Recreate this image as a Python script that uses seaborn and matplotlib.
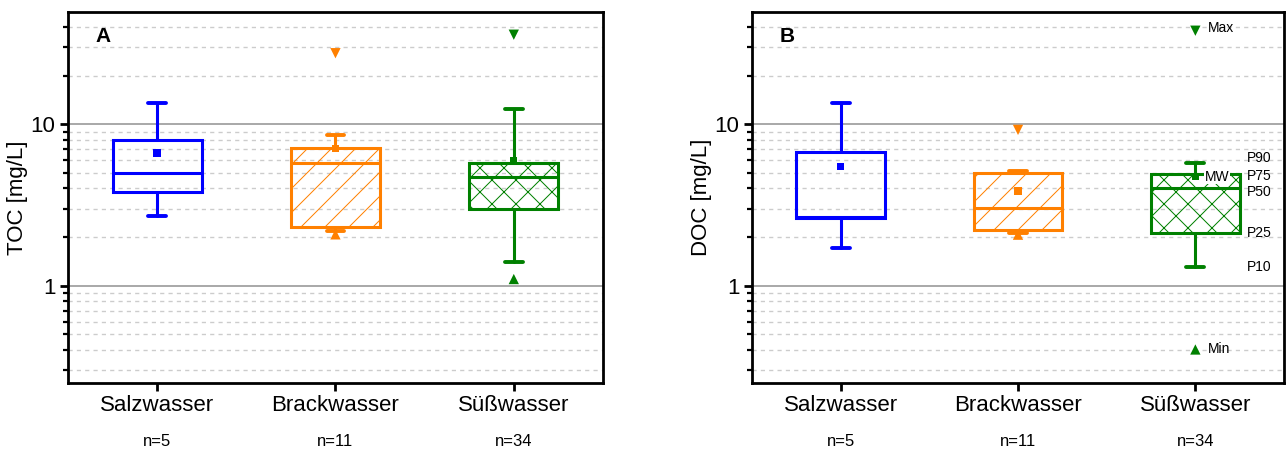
import numpy as np
import pandas as pd
import seaborn as sns
import matplotlib
matplotlib.use('Agg')
import matplotlib.pyplot as plt
from matplotlib.ticker import LogLocator, NullFormatter, FuncFormatter

# Kategorien und Stichprobenumfang
kategorien = ['Salzwasser', 'Brackwasser', 'Süßwasser']
n_labels = ['n=5', 'n=11', 'n=34']
farben = ['#0000FF', '#FF8000', '#008000']
schraffur = ['', '/', 'x']

# A: TOC [mg/L] - Perzentile, Mittelwert, Min/Max
toc_p10 = [2.70, 2.18, 1.41]
toc_p25 = [3.83, 2.30, 3.00]
toc_p50 = [5.02, 5.79, 4.72]
toc_p75 = [7.97, 7.17, 5.73]
toc_p90 = [13.5, 8.6, 12.4]
toc_mw = [6.62, 7.10, 5.95]
toc_min = [np.nan, 2.08, 1.10]
toc_max = [np.nan, 27.5, 35.8]

# B: DOC [mg/L]
doc_p10 = [1.70, 2.11, 1.31]
doc_p25 = [2.62, 2.21, 2.12]
doc_p50 = [2.68, 3.01, 4.01]
doc_p75 = [6.70, 5.02, 4.92]
doc_p90 = [13.5, 5.16, 5.78]
doc_mw = [5.47, 3.86, 4.74]
doc_min = [np.nan, 2.07, 0.403]
doc_max = [np.nan, 9.22, 37.9]

# Beschriftung der Süßwasser-Box in B
legende_texte = ['P90', 'P75', 'P50', 'P25', 'P10']

# bei 72 dpi ist die Schraffur enger (wie im Original); Groessen in "100-dpi-Punkten" umrechnen
DPI = 72
K = 100 / DPI

sns.set_style('ticks')
plt.rcParams['font.family'] = ['Liberation Sans', 'DejaVu Sans']
plt.rcParams['hatch.linewidth'] = 1.0
for key in ['text.color', 'axes.labelcolor', 'xtick.color', 'ytick.color']:
    plt.rcParams[key] = 'black'

fig = plt.figure(figsize=(1287 / DPI, 452 / DPI), dpi=DPI)
ax_a = fig.add_axes([0.0528, 0.1527, 0.4157, 0.8208])
ax_b = fig.add_axes([0.5843, 0.1527, 0.4134, 0.8208])
palette = dict(zip(kategorien, farben))


def panel(ax, p10, p25, p50, p75, p90, mw, vmin, vmax, ylabel, buchstabe):
    ax.set_yscale('log')
    stats = []
    for i in range(3):
        stats.append(dict(whislo=p10[i], q1=p25[i], med=p50[i], q3=p75[i],
                          whishi=p90[i], fliers=[]))
    teile = ax.bxp(stats, positions=[0, 1, 2], widths=0.5, capwidths=0.1,
                   patch_artist=True, showfliers=False, manage_ticks=False)
    for i, box in enumerate(teile['boxes']):
        box.set_facecolor('none')
        box.set_edgecolor(farben[i])
        box.set_linewidth(2.2 * K)
        box.set_hatch(schraffur[i])
    for i, m in enumerate(teile['medians']):
        m.set_color(farben[i])
        m.set_linewidth(2.2 * K)
    for j, w in enumerate(teile['whiskers']):
        w.set_color(farben[j // 2])
        w.set_linewidth(2.2 * K)
    for j, c in enumerate(teile['caps']):
        c.set_color(farben[j // 2])
        c.set_linewidth(2.8 * K)

    df = pd.DataFrame({'x': [0, 1, 2], 'kat': kategorien, 'mw': mw,
                       'min': vmin, 'max': vmax})
    sns.scatterplot(data=df, x='x', y='mw', hue='kat', palette=palette, marker='s',
                    s=28 * K * K, linewidth=0, legend=False, zorder=4, ax=ax)
    sns.scatterplot(data=df.dropna(), x='x', y='max', hue='kat', palette=palette, marker='v',
                    s=55 * K * K, linewidth=0, legend=False, zorder=4, ax=ax)
    sns.scatterplot(data=df.dropna(), x='x', y='min', hue='kat', palette=palette, marker='^',
                    s=55 * K * K, linewidth=0, legend=False, zorder=4, ax=ax)

    ax.set_xlim(-0.5, 2.5)
    ax.set_ylim(0.25, 49.5)
    ax.yaxis.set_major_locator(LogLocator(base=10))
    ax.yaxis.set_minor_locator(LogLocator(base=10, subs=np.arange(2, 10)))
    ax.yaxis.set_major_formatter(FuncFormatter(lambda v, p: f'{v:g}'))
    ax.yaxis.set_minor_formatter(NullFormatter())
    ax.set_xticks([0, 1, 2])
    ax.set_xticklabels(kategorien)
    ax.grid(which='major', axis='y', color='#9a9a9a', lw=1.2 * K, ls='-')
    ax.grid(which='minor', axis='y', color='#cccccc', lw=1.0 * K, ls=(0, (3, 3)))
    ax.set_axisbelow(True)
    ax.tick_params(axis='both', which='major', direction='out', length=6 * K, width=2 * K,
                   labelsize=16 * K, pad=3 * K, color='black', labelcolor='black')
    ax.tick_params(axis='y', which='minor', direction='out', length=3.5 * K, width=1.6 * K)
    for sp in ax.spines.values():
        sp.set_visible(True)
        sp.set_linewidth(2 * K)
        sp.set_color('black')
    ax.set_xlabel('')
    ax.set_ylabel(ylabel, fontsize=16 * K, labelpad=2 * K, color='black')
    ax.text(0.052, 0.935, buchstabe, transform=ax.transAxes, fontsize=15 * K,
            fontweight='bold', ha='left', va='center', color='black')
    for i, t in enumerate(n_labels):
        ax.text(i, -0.159, t, transform=ax.get_xaxis_transform(), ha='center',
                va='center', fontsize=12 * K, color='black')


panel(ax_a, toc_p10, toc_p25, toc_p50, toc_p75, toc_p90, toc_mw, toc_min, toc_max,
      'TOC [mg/L]', 'A')
panel(ax_b, doc_p10, doc_p25, doc_p50, doc_p75, doc_p90, doc_mw, doc_min, doc_max,
      'DOC [mg/L]', 'B')

# Erläuterung an der Süßwasser-Box (leicht auseinandergezogen wie im Original)
k = 2
werte = [doc_p90[k], doc_p75[k], doc_p50[k], doc_p25[k], doc_p10[k]]
versatz = [3, -1.5, -3, 0, 0]
for t, v, dy in zip(legende_texte, werte, versatz):
    ax_b.annotate(t, xy=(k, v), xytext=(37 * K, dy * K), textcoords='offset points',
                  ha='left', va='center', fontsize=10 * K, color='black')
ax_b.annotate('Max', xy=(k, doc_max[k]), xytext=(9 * K, 2 * K), textcoords='offset points',
              ha='left', va='center', fontsize=10 * K, color='black')
ax_b.annotate('Min', xy=(k, doc_min[k]), xytext=(9 * K, 0), textcoords='offset points',
              ha='left', va='center', fontsize=10 * K, color='black')
ax_b.annotate('MW', xy=(k, doc_mw[k]), xytext=(6.5 * K, 0), textcoords='offset points',
              ha='left', va='center', fontsize=10 * K, zorder=5, color='black',
              bbox=dict(facecolor='white', edgecolor='none', pad=0.5))

fig.savefig('out.png', dpi=DPI)
